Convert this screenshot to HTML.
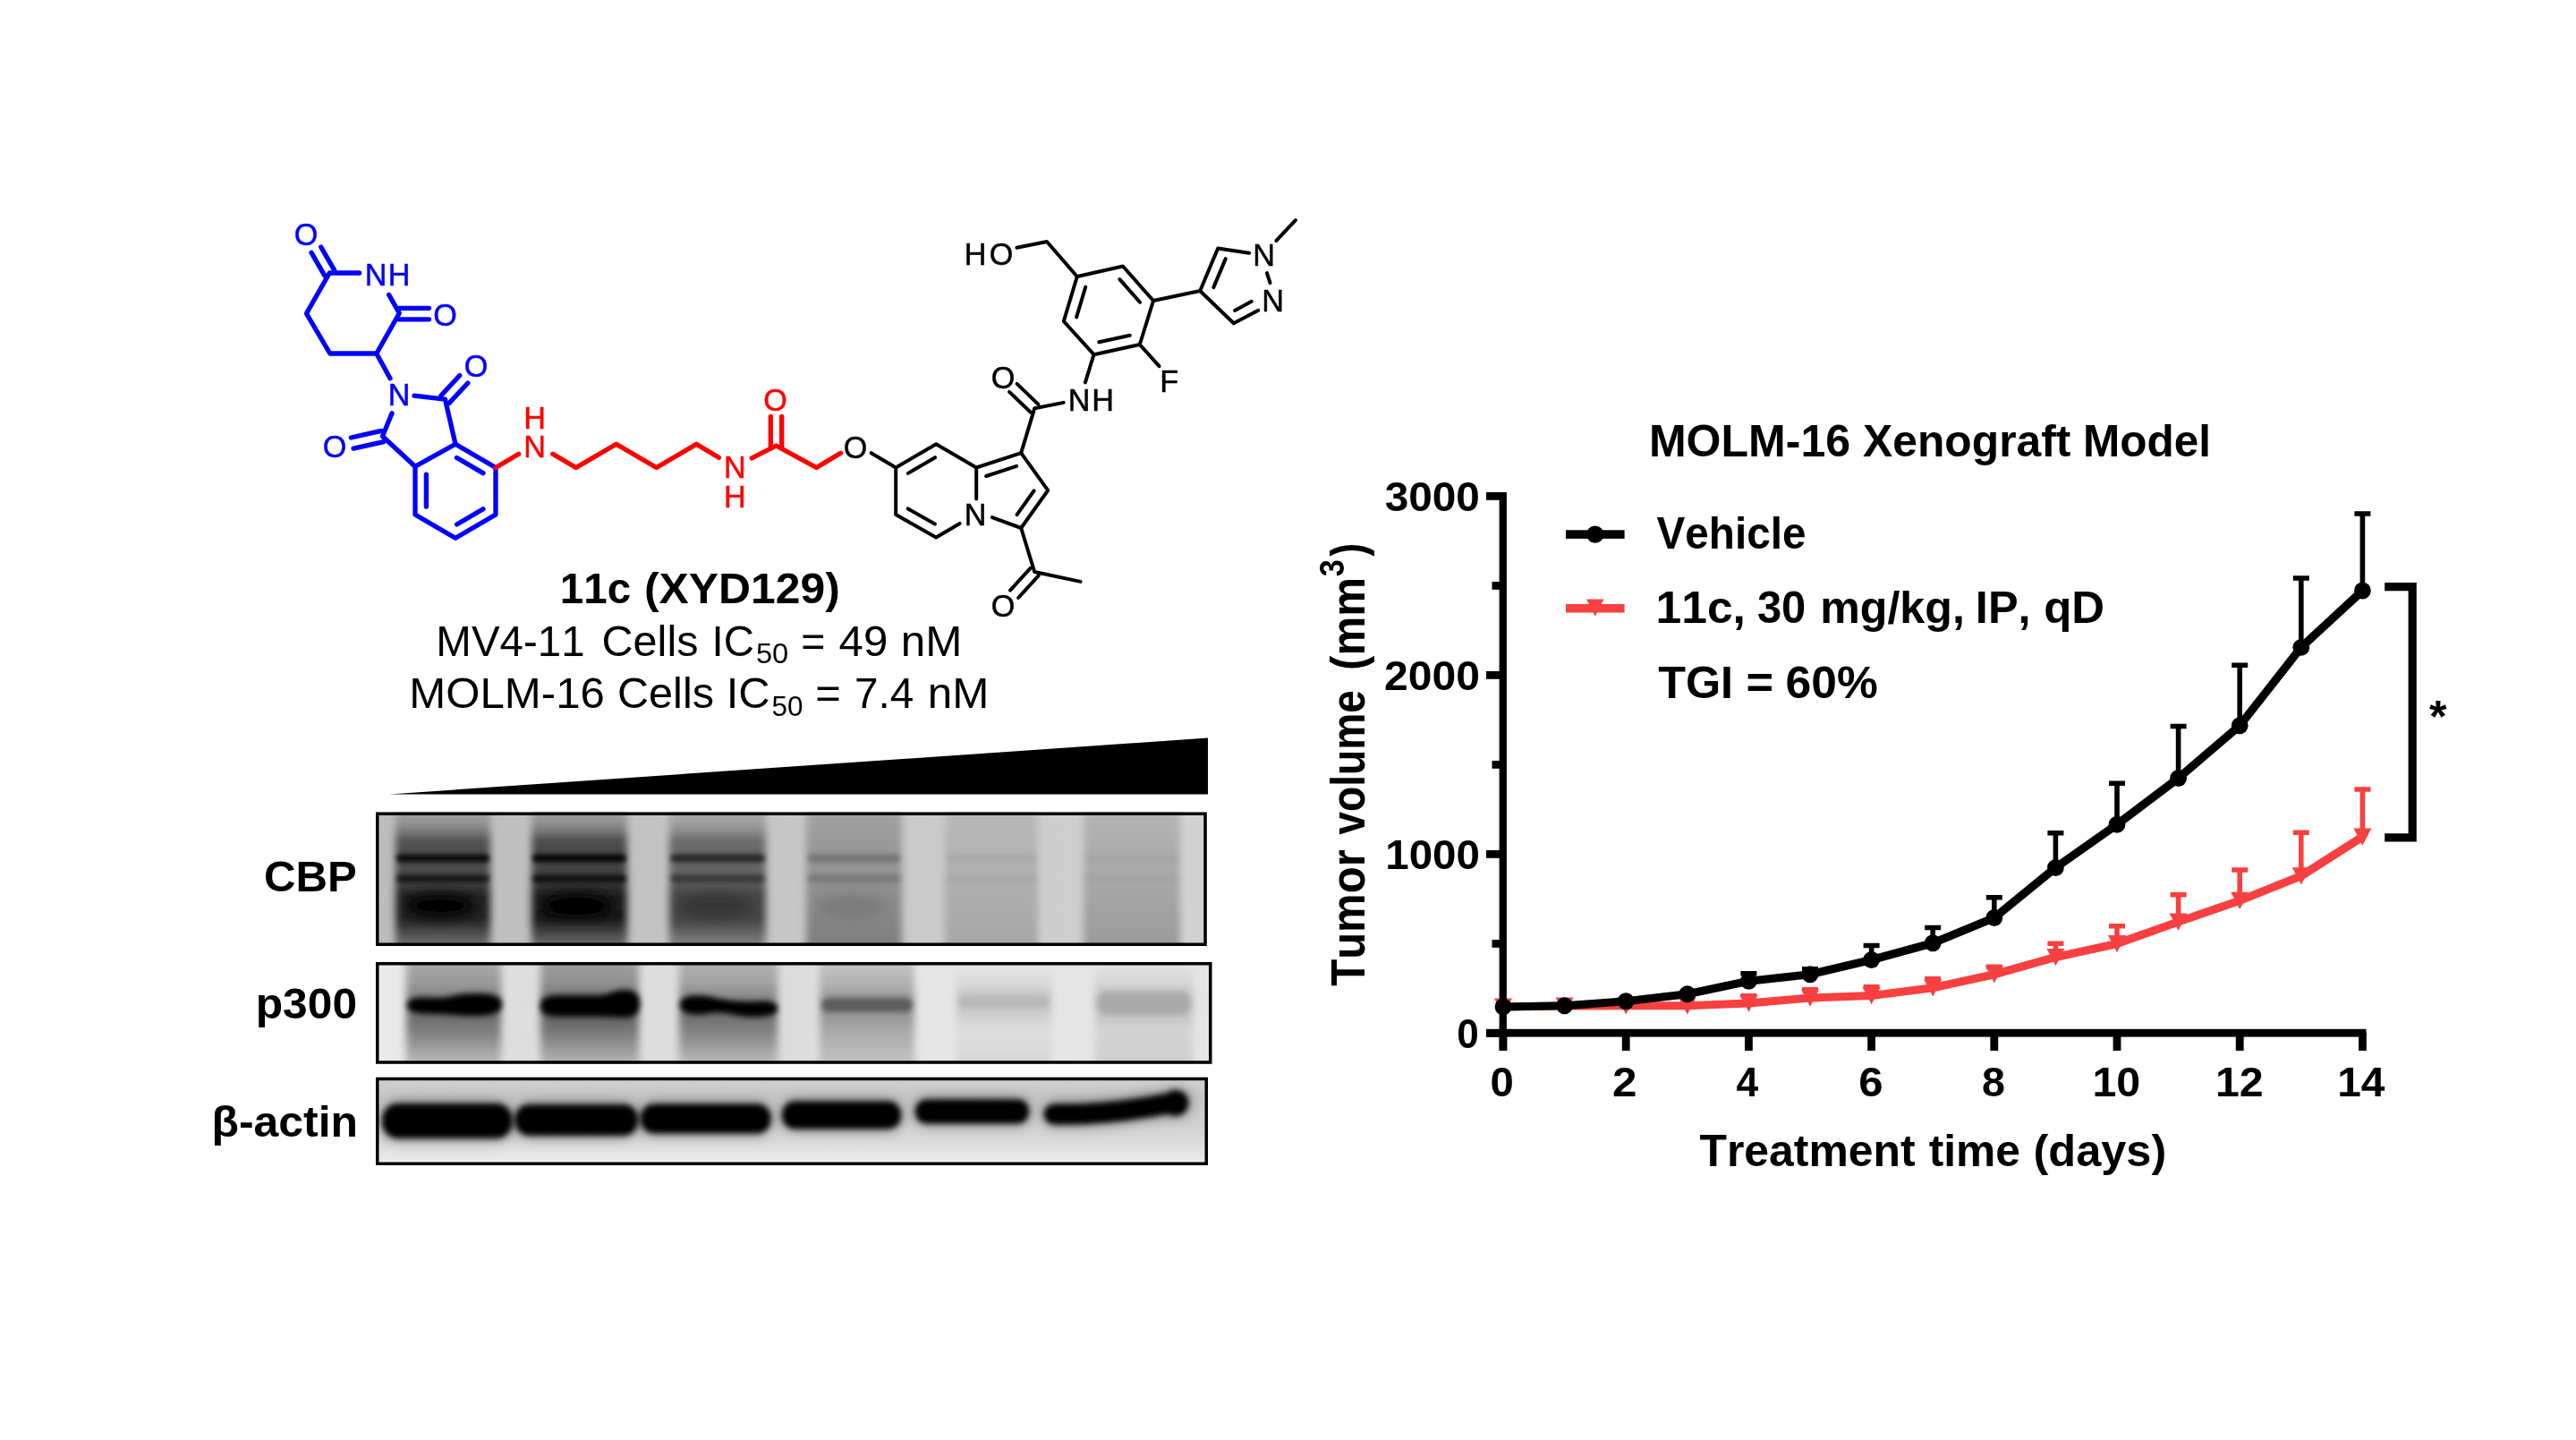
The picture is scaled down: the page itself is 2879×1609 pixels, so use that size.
<!DOCTYPE html>
<html><head><meta charset="utf-8"><title>figure</title>
<style>
html,body{margin:0;padding:0;background:#fff;}
svg{display:block}
text{font-family:"Liberation Sans",sans-serif;font-kerning:none;white-space:pre}
</style></head><body>
<svg width="2879" height="1609" viewBox="0 0 2879 1609">
<defs><filter id="soft" filterUnits="userSpaceOnUse" x="0" y="0" width="2879" height="1609"><feGaussianBlur stdDeviation="0.65"/></filter></defs>
<rect width="2879" height="1609" fill="#fff"/>
<g filter="url(#soft)">
<g id="structure">
<path d="M401.64,305.00 L368.30,305.00 L342.50,350.30 L368.80,395.00 L420.80,395.00 L446.30,350.00 L434.66,329.41" fill="none" stroke="#0000ff" stroke-width="5.3" stroke-linejoin="round" stroke-linecap="round"/>
<line x1="362.93" y1="308.10" x2="348.05" y2="282.35" stroke="#0000ff" stroke-width="5.3" stroke-linecap="round"/>
<line x1="373.67" y1="301.90" x2="358.79" y2="276.14" stroke="#0000ff" stroke-width="5.3" stroke-linecap="round"/>
<line x1="445.50" y1="344.30" x2="479.44" y2="344.30" stroke="#0000ff" stroke-width="5.3" stroke-linecap="round"/>
<line x1="445.50" y1="356.80" x2="479.44" y2="356.80" stroke="#0000ff" stroke-width="5.3" stroke-linecap="round"/>
<line x1="420.80" y1="395.00" x2="436.00" y2="422.75" stroke="#0000ff" stroke-width="5.3" stroke-linecap="round"/>
<path d="M463.04,442.21 L497.50,446.20 L509.00,496.20" fill="none" stroke="#0000ff" stroke-width="5.3" stroke-linejoin="round" stroke-linecap="round"/>
<path d="M438.05,461.72 L427.50,487.50 L464.00,521.20" fill="none" stroke="#0000ff" stroke-width="5.3" stroke-linejoin="round" stroke-linecap="round"/>
<line x1="492.95" y1="441.98" x2="513.79" y2="419.51" stroke="#0000ff" stroke-width="5.3" stroke-linecap="round"/>
<line x1="502.05" y1="450.42" x2="522.88" y2="427.95" stroke="#0000ff" stroke-width="5.3" stroke-linecap="round"/>
<line x1="428.86" y1="493.55" x2="395.05" y2="501.13" stroke="#0000ff" stroke-width="5.3" stroke-linecap="round"/>
<line x1="426.14" y1="481.45" x2="392.34" y2="489.03" stroke="#0000ff" stroke-width="5.3" stroke-linecap="round"/>
<path d="M509.00,496.20 L554.00,522.50 L554.00,575.00 L509.00,601.20 L464.00,575.00 L464.00,521.20 Z" fill="none" stroke="#0000ff" stroke-width="5.3" stroke-linejoin="round" stroke-linecap="round"/>
<line x1="510.52" y1="511.45" x2="539.96" y2="528.66" stroke="#0000ff" stroke-width="5.3" stroke-linecap="round"/>
<line x1="539.97" y1="568.82" x2="510.55" y2="585.95" stroke="#0000ff" stroke-width="5.3" stroke-linecap="round"/>
<line x1="476.40" y1="565.99" x2="476.40" y2="530.21" stroke="#0000ff" stroke-width="5.3" stroke-linecap="round"/>
<line x1="554.00" y1="522.50" x2="579.65" y2="507.34" stroke="#ff0000" stroke-width="5.3" stroke-linecap="round"/>
<path d="M617.80,507.24 L643.75,522.50 L688.75,496.25 L733.75,522.50 L778.40,496.25 L803.41,511.34" fill="none" stroke="#ff0000" stroke-width="5.3" stroke-linejoin="round" stroke-linecap="round"/>
<path d="M840.26,511.76 L867.50,498.00 L912.50,522.50 L939.61,506.16" fill="none" stroke="#ff0000" stroke-width="5.3" stroke-linejoin="round" stroke-linecap="round"/>
<line x1="861.30" y1="501.00" x2="861.30" y2="465.36" stroke="#ff0000" stroke-width="5.3" stroke-linecap="round"/>
<line x1="873.70" y1="501.00" x2="873.70" y2="465.36" stroke="#ff0000" stroke-width="5.3" stroke-linecap="round"/>
<line x1="973.70" y1="506.21" x2="1001.20" y2="522.50" stroke="#000" stroke-width="4.0" stroke-linecap="round"/>
<path d="M1072.59,584.91 L1046.20,600.50 L1001.20,575.00 L1001.20,522.50 L1046.20,496.20 L1091.20,522.50 L1091.20,557.40" fill="none" stroke="#000" stroke-width="4.0" stroke-linejoin="round" stroke-linecap="round"/>
<line x1="1014.84" y1="528.89" x2="1045.07" y2="511.22" stroke="#000" stroke-width="4.0" stroke-linecap="round"/>
<line x1="1044.87" y1="585.49" x2="1014.76" y2="568.43" stroke="#000" stroke-width="4.0" stroke-linecap="round"/>
<path d="M1091.20,522.50 L1141.20,506.20 L1171.20,547.80 L1141.20,590.00 L1108.81,578.08" fill="none" stroke="#000" stroke-width="4.0" stroke-linejoin="round" stroke-linecap="round"/>
<line x1="1102.08" y1="532.00" x2="1136.11" y2="520.90" stroke="#000" stroke-width="4.0" stroke-linecap="round"/>
<line x1="1155.65" y1="548.28" x2="1136.54" y2="575.15" stroke="#000" stroke-width="4.0" stroke-linecap="round"/>
<path d="M1141.20,506.20 L1156.20,456.30 L1188.63,449.87" fill="none" stroke="#000" stroke-width="4.0" stroke-linejoin="round" stroke-linecap="round"/>
<line x1="1151.91" y1="460.77" x2="1128.03" y2="437.85" stroke="#000" stroke-width="4.0" stroke-linecap="round"/>
<line x1="1160.49" y1="451.83" x2="1136.62" y2="428.90" stroke="#000" stroke-width="4.0" stroke-linecap="round"/>
<line x1="1212.91" y1="427.46" x2="1222.50" y2="396.20" stroke="#000" stroke-width="4.0" stroke-linecap="round"/>
<path d="M1222.50,396.20 L1273.80,385.00 L1289.00,336.00 L1255.00,297.50 L1203.80,309.00 L1188.80,359.00 Z" fill="none" stroke="#000" stroke-width="4.0" stroke-linejoin="round" stroke-linecap="round"/>
<line x1="1228.21" y1="382.26" x2="1262.80" y2="374.71" stroke="#000" stroke-width="4.0" stroke-linecap="round"/>
<line x1="1274.04" y1="337.80" x2="1251.37" y2="312.12" stroke="#000" stroke-width="4.0" stroke-linecap="round"/>
<line x1="1213.22" y1="320.76" x2="1203.14" y2="354.37" stroke="#000" stroke-width="4.0" stroke-linecap="round"/>
<line x1="1273.80" y1="385.00" x2="1295.56" y2="409.16" stroke="#000" stroke-width="4.0" stroke-linecap="round"/>
<path d="M1203.80,309.00 L1170.00,270.00 L1136.37,276.73" fill="none" stroke="#000" stroke-width="4.0" stroke-linejoin="round" stroke-linecap="round"/>
<path d="M1289.00,336.00 L1341.20,325.00" fill="none" stroke="#000" stroke-width="4.0" stroke-linejoin="round" stroke-linecap="round"/>
<path d="M1396.12,282.79 L1361.20,277.50 L1341.20,325.00 L1378.80,361.20 L1406.26,346.85" fill="none" stroke="#000" stroke-width="4.0" stroke-linejoin="round" stroke-linecap="round"/>
<line x1="1356.28" y1="321.15" x2="1369.76" y2="289.13" stroke="#000" stroke-width="4.0" stroke-linecap="round"/>
<line x1="1398.77" y1="336.86" x2="1380.03" y2="346.94" stroke="#000" stroke-width="4.0" stroke-linecap="round"/>
<line x1="1415.94" y1="305.13" x2="1419.56" y2="316.17" stroke="#000" stroke-width="4.0" stroke-linecap="round"/>
<line x1="1426.45" y1="268.98" x2="1447.85" y2="246.02" stroke="#000" stroke-width="4.0" stroke-linecap="round"/>
<path d="M1141.20,590.00 L1156.20,639.00 L1207.63,649.91" fill="none" stroke="#000" stroke-width="4.0" stroke-linejoin="round" stroke-linecap="round"/>
<line x1="1160.78" y1="643.18" x2="1138.10" y2="667.98" stroke="#000" stroke-width="4.0" stroke-linecap="round"/>
<line x1="1151.62" y1="634.82" x2="1128.95" y2="659.61" stroke="#000" stroke-width="4.0" stroke-linecap="round"/>
<text x="328.71" y="274.26" font-size="34.2" font-weight="normal" fill="#0000ff" stroke="#0000ff" stroke-width="0.5">O</text>
<text x="407.64" y="318.76" font-size="34.2" font-weight="normal" fill="#0000ff" stroke="#0000ff" stroke-width="0.5">N</text>
<text x="433.64" y="318.76" font-size="34.2" font-weight="normal" fill="#0000ff" stroke="#0000ff" stroke-width="0.5">H</text>
<text x="484.21" y="364.26" font-size="34.2" font-weight="normal" fill="#0000ff" stroke="#0000ff" stroke-width="0.5">O</text>
<text x="433.64" y="453.26" font-size="34.2" font-weight="normal" fill="#0000ff" stroke="#0000ff" stroke-width="0.5">N</text>
<text x="518.71" y="421.26" font-size="34.2" font-weight="normal" fill="#0000ff" stroke="#0000ff" stroke-width="0.5">O</text>
<text x="360.71" y="511.26" font-size="34.2" font-weight="normal" fill="#0000ff" stroke="#0000ff" stroke-width="0.5">O</text>
<text x="585.14" y="510.51" font-size="34.2" font-weight="normal" fill="#ff0000" stroke="#ff0000" stroke-width="0.5">N</text>
<text x="585.14" y="479.26" font-size="34.2" font-weight="normal" fill="#ff0000" stroke="#ff0000" stroke-width="0.5">H</text>
<text x="808.89" y="534.26" font-size="34.2" font-weight="normal" fill="#ff0000" stroke="#ff0000" stroke-width="0.5">N</text>
<text x="808.89" y="566.76" font-size="34.2" font-weight="normal" fill="#ff0000" stroke="#ff0000" stroke-width="0.5">H</text>
<text x="853.21" y="459.26" font-size="34.2" font-weight="normal" fill="#ff0000" stroke="#ff0000" stroke-width="0.5">O</text>
<text x="942.71" y="511.76" font-size="34.2" font-weight="normal" fill="#000" stroke="#000" stroke-width="0.5">O</text>
<text x="1077.64" y="587.26" font-size="34.2" font-weight="normal" fill="#000" stroke="#000" stroke-width="0.5">N</text>
<text x="1107.71" y="434.26" font-size="34.2" font-weight="normal" fill="#000" stroke="#000" stroke-width="0.5">O</text>
<text x="1193.64" y="459.26" font-size="34.2" font-weight="normal" fill="#000" stroke="#000" stroke-width="0.5">N</text>
<text x="1220.14" y="459.26" font-size="34.2" font-weight="normal" fill="#000" stroke="#000" stroke-width="0.5">H</text>
<text x="1296.34" y="438.06" font-size="34.2" font-weight="normal" fill="#000" stroke="#000" stroke-width="0.5">F</text>
<text x="1077.64" y="295.76" font-size="34.2" font-weight="normal" fill="#000" stroke="#000" stroke-width="0.5">H</text>
<text x="1105.71" y="295.76" font-size="34.2" font-weight="normal" fill="#000" stroke="#000" stroke-width="0.5">O</text>
<text x="1400.14" y="296.76" font-size="34.2" font-weight="normal" fill="#000" stroke="#000" stroke-width="0.5">N</text>
<text x="1410.14" y="348.26" font-size="34.2" font-weight="normal" fill="#000" stroke="#000" stroke-width="0.5">N</text>
<text x="1107.71" y="689.26" font-size="34.2" font-weight="normal" fill="#000" stroke="#000" stroke-width="0.5">O</text>
</g>
<g id="lefttext">
<text x="625.75" y="673.75" font-size="47.6" font-weight="bold" fill="#000" textLength="79.39" lengthAdjust="spacingAndGlyphs" >11c</text>
<text x="720.02" y="673.75" font-size="47.6" font-weight="bold" fill="#000" textLength="218.71" lengthAdjust="spacingAndGlyphs" >(XYD129)</text>
<text x="487.36" y="732.50" font-size="47.6" font-weight="normal" fill="#000" textLength="166.21" lengthAdjust="spacingAndGlyphs" >MV4-11</text>
<text x="672.53" y="732.50" font-size="47.6" font-weight="normal" fill="#000" textLength="107.97" lengthAdjust="spacingAndGlyphs" >Cells</text>
<text x="795.62" y="732.50" font-size="47.6" font-weight="normal" fill="#000" textLength="47.43" lengthAdjust="spacingAndGlyphs" >IC</text>
<text x="844.94" y="741.25" font-size="32" font-weight="normal" fill="#000" textLength="36.33" lengthAdjust="spacingAndGlyphs" >50</text>
<text x="895.24" y="732.50" font-size="47.6" font-weight="normal" fill="#000" textLength="27.05" lengthAdjust="spacingAndGlyphs" >=</text>
<text x="937.62" y="732.50" font-size="47.6" font-weight="normal" fill="#000" textLength="54.71" lengthAdjust="spacingAndGlyphs" >49</text>
<text x="1006.72" y="732.50" font-size="47.6" font-weight="normal" fill="#000" textLength="68.58" lengthAdjust="spacingAndGlyphs" >nM</text>
<text x="457.21" y="791.25" font-size="47.6" font-weight="normal" fill="#000" textLength="218.70" lengthAdjust="spacingAndGlyphs" >MOLM-16</text>
<text x="690.03" y="791.25" font-size="47.6" font-weight="normal" fill="#000" textLength="107.97" lengthAdjust="spacingAndGlyphs" >Cells</text>
<text x="811.74" y="791.25" font-size="47.6" font-weight="normal" fill="#000" textLength="48.87" lengthAdjust="spacingAndGlyphs" >IC</text>
<text x="862.49" y="800.00" font-size="32" font-weight="normal" fill="#000" textLength="34.99" lengthAdjust="spacingAndGlyphs" >50</text>
<text x="911.36" y="791.25" font-size="47.6" font-weight="normal" fill="#000" textLength="28.55" lengthAdjust="spacingAndGlyphs" >=</text>
<text x="955.05" y="791.25" font-size="47.6" font-weight="normal" fill="#000" textLength="66.35" lengthAdjust="spacingAndGlyphs" >7.4</text>
<text x="1036.72" y="791.25" font-size="47.6" font-weight="normal" fill="#000" textLength="68.58" lengthAdjust="spacingAndGlyphs" >nM</text>
<text x="294.99" y="996.40" font-size="47.5" font-weight="bold" fill="#000" textLength="103.69" lengthAdjust="spacingAndGlyphs" >CBP</text>
<text x="285.72" y="1138.00" font-size="47.5" font-weight="bold" fill="#000" textLength="113.32" lengthAdjust="spacingAndGlyphs" >p300</text>
<text x="236.54" y="1270.00" font-size="47.5" font-weight="bold" fill="#000" textLength="163.55" lengthAdjust="spacingAndGlyphs" >β-actin</text>
</g>
<polygon points="435,887.5 1350,887.5 1350,824.5" fill="#000"/>
<defs>
<filter id="bl1_5" x="-30%" y="-80%" width="160%" height="260%"><feGaussianBlur stdDeviation="1.5"/></filter>
<filter id="bl2" x="-30%" y="-80%" width="160%" height="260%"><feGaussianBlur stdDeviation="2"/></filter>
<filter id="bl2_5" x="-30%" y="-80%" width="160%" height="260%"><feGaussianBlur stdDeviation="2.5"/></filter>
<filter id="bl3" x="-30%" y="-80%" width="160%" height="260%"><feGaussianBlur stdDeviation="3"/></filter>
<filter id="bl4" x="-30%" y="-80%" width="160%" height="260%"><feGaussianBlur stdDeviation="4"/></filter>
<filter id="bl5" x="-30%" y="-80%" width="160%" height="260%"><feGaussianBlur stdDeviation="5"/></filter>
<filter id="bl6" x="-30%" y="-80%" width="160%" height="260%"><feGaussianBlur stdDeviation="6"/></filter>
<filter id="bl8" x="-30%" y="-80%" width="160%" height="260%"><feGaussianBlur stdDeviation="8"/></filter>
<clipPath id="cpA"><rect x="420" y="907.5" width="928.75" height="149.5"/></clipPath>
<linearGradient id="lgA0" x1="0" y1="907.5" x2="0" y2="1057" gradientUnits="userSpaceOnUse">
<stop offset="0.0033" stop-color="#a0a0a0"/>
<stop offset="0.0836" stop-color="#929292"/>
<stop offset="0.1438" stop-color="#7d7d7d"/>
<stop offset="0.1906" stop-color="#575757"/>
<stop offset="0.2977" stop-color="#4d4d4d"/>
<stop offset="0.4047" stop-color="#4d4d4d"/>
<stop offset="0.5518" stop-color="#3c3c3c"/>
<stop offset="0.6054" stop-color="#242424"/>
<stop offset="0.8060" stop-color="#222222"/>
<stop offset="0.8595" stop-color="#383838"/>
<stop offset="0.9197" stop-color="#545454"/>
<stop offset="0.9933" stop-color="#6f6f6f"/>
</linearGradient>
<linearGradient id="lgA1" x1="0" y1="907.5" x2="0" y2="1057" gradientUnits="userSpaceOnUse">
<stop offset="0.0033" stop-color="#9e9e9e"/>
<stop offset="0.0836" stop-color="#8f8f8f"/>
<stop offset="0.1438" stop-color="#797979"/>
<stop offset="0.1906" stop-color="#515151"/>
<stop offset="0.2977" stop-color="#464646"/>
<stop offset="0.4047" stop-color="#464646"/>
<stop offset="0.5518" stop-color="#343434"/>
<stop offset="0.6054" stop-color="#1b1b1b"/>
<stop offset="0.8060" stop-color="#191919"/>
<stop offset="0.8595" stop-color="#303030"/>
<stop offset="0.9197" stop-color="#4e4e4e"/>
<stop offset="0.9933" stop-color="#6b6b6b"/>
</linearGradient>
<linearGradient id="lgA2" x1="0" y1="907.5" x2="0" y2="1057" gradientUnits="userSpaceOnUse">
<stop offset="0.0033" stop-color="#a9a9a9"/>
<stop offset="0.0836" stop-color="#9e9e9e"/>
<stop offset="0.1438" stop-color="#8d8d8d"/>
<stop offset="0.1906" stop-color="#6f6f6f"/>
<stop offset="0.2977" stop-color="#666666"/>
<stop offset="0.4047" stop-color="#666666"/>
<stop offset="0.5518" stop-color="#595959"/>
<stop offset="0.6054" stop-color="#454545"/>
<stop offset="0.8060" stop-color="#444444"/>
<stop offset="0.8595" stop-color="#565656"/>
<stop offset="0.9197" stop-color="#6c6c6c"/>
<stop offset="0.9933" stop-color="#828282"/>
</linearGradient>
<linearGradient id="lgA3" x1="0" y1="907.5" x2="0" y2="1057" gradientUnits="userSpaceOnUse">
<stop offset="0.0033" stop-color="#a1a1a1"/>
<stop offset="0.0836" stop-color="#9f9f9f"/>
<stop offset="0.1438" stop-color="#9d9d9d"/>
<stop offset="0.1906" stop-color="#9b9b9b"/>
<stop offset="0.2977" stop-color="#979797"/>
<stop offset="0.4047" stop-color="#949494"/>
<stop offset="0.5518" stop-color="#8f8f8f"/>
<stop offset="0.6054" stop-color="#8d8d8d"/>
<stop offset="0.8060" stop-color="#868686"/>
<stop offset="0.8595" stop-color="#848484"/>
<stop offset="0.9197" stop-color="#828282"/>
<stop offset="0.9933" stop-color="#808080"/>
</linearGradient>
<linearGradient id="lgA4" x1="0" y1="907.5" x2="0" y2="1057" gradientUnits="userSpaceOnUse">
<stop offset="0.0033" stop-color="#b9b9b9"/>
<stop offset="0.0836" stop-color="#b7b7b7"/>
<stop offset="0.1438" stop-color="#b6b6b6"/>
<stop offset="0.1906" stop-color="#b5b5b5"/>
<stop offset="0.2977" stop-color="#b3b3b3"/>
<stop offset="0.4047" stop-color="#b1b1b1"/>
<stop offset="0.5518" stop-color="#aeaeae"/>
<stop offset="0.6054" stop-color="#adadad"/>
<stop offset="0.8060" stop-color="#aaaaaa"/>
<stop offset="0.8595" stop-color="#a9a9a9"/>
<stop offset="0.9197" stop-color="#a7a7a7"/>
<stop offset="0.9933" stop-color="#a6a6a6"/>
</linearGradient>
<linearGradient id="lgA5" x1="0" y1="907.5" x2="0" y2="1057" gradientUnits="userSpaceOnUse">
<stop offset="0.0033" stop-color="#b3b3b3"/>
<stop offset="0.0836" stop-color="#b2b2b2"/>
<stop offset="0.1438" stop-color="#b0b0b0"/>
<stop offset="0.1906" stop-color="#afafaf"/>
<stop offset="0.2977" stop-color="#acacac"/>
<stop offset="0.4047" stop-color="#aaaaaa"/>
<stop offset="0.5518" stop-color="#a6a6a6"/>
<stop offset="0.6054" stop-color="#a5a5a5"/>
<stop offset="0.8060" stop-color="#a0a0a0"/>
<stop offset="0.8595" stop-color="#9f9f9f"/>
<stop offset="0.9197" stop-color="#9e9e9e"/>
<stop offset="0.9933" stop-color="#9c9c9c"/>
</linearGradient>
<linearGradient id="bgA" x1="420" y1="0" x2="1349" y2="0" gradientUnits="userSpaceOnUse"><stop offset="0" stop-color="#bcbcbc"/><stop offset="0.5" stop-color="#c6c6c6"/><stop offset="1" stop-color="#d2d2d2"/></linearGradient>
<clipPath id="cpB"><rect x="420" y="1075" width="934.5" height="113.75"/></clipPath>
<linearGradient id="lgB0" x1="0" y1="1075" x2="0" y2="1188.75" gradientUnits="userSpaceOnUse">
<stop offset="0.0264" stop-color="#a7a7a7"/>
<stop offset="0.2198" stop-color="#989898"/>
<stop offset="0.3253" stop-color="#848484"/>
<stop offset="0.5275" stop-color="#6c6c6c"/>
<stop offset="0.6593" stop-color="#7b7b7b"/>
<stop offset="0.8352" stop-color="#9c9c9c"/>
<stop offset="0.9846" stop-color="#b9b9b9"/>
</linearGradient>
<linearGradient id="lgB1" x1="0" y1="1075" x2="0" y2="1188.75" gradientUnits="userSpaceOnUse">
<stop offset="0.0264" stop-color="#9d9d9d"/>
<stop offset="0.2198" stop-color="#8e8e8e"/>
<stop offset="0.3253" stop-color="#7a7a7a"/>
<stop offset="0.5275" stop-color="#646464"/>
<stop offset="0.6593" stop-color="#737373"/>
<stop offset="0.8352" stop-color="#969696"/>
<stop offset="0.9846" stop-color="#b4b4b4"/>
</linearGradient>
<linearGradient id="lgB2" x1="0" y1="1075" x2="0" y2="1188.75" gradientUnits="userSpaceOnUse">
<stop offset="0.0264" stop-color="#afafaf"/>
<stop offset="0.2198" stop-color="#a0a0a0"/>
<stop offset="0.3253" stop-color="#8c8c8c"/>
<stop offset="0.5275" stop-color="#707070"/>
<stop offset="0.6593" stop-color="#7f7f7f"/>
<stop offset="0.8352" stop-color="#9e9e9e"/>
<stop offset="0.9846" stop-color="#b9b9b9"/>
</linearGradient>
<linearGradient id="lgB3" x1="0" y1="1075" x2="0" y2="1188.75" gradientUnits="userSpaceOnUse">
<stop offset="0.0264" stop-color="#c1c1c1"/>
<stop offset="0.2198" stop-color="#b2b2b2"/>
<stop offset="0.3253" stop-color="#9e9e9e"/>
<stop offset="0.5275" stop-color="#989898"/>
<stop offset="0.6593" stop-color="#a7a7a7"/>
<stop offset="0.8352" stop-color="#b6b6b6"/>
<stop offset="0.9846" stop-color="#c0c0c0"/>
</linearGradient>
<linearGradient id="lgB4" x1="0" y1="1075" x2="0" y2="1188.75" gradientUnits="userSpaceOnUse">
<stop offset="0.0264" stop-color="#e7e7e7"/>
<stop offset="0.2198" stop-color="#d8d8d8"/>
<stop offset="0.3253" stop-color="#c4c4c4"/>
<stop offset="0.5275" stop-color="#cecece"/>
<stop offset="0.6593" stop-color="#dddddd"/>
<stop offset="0.8352" stop-color="#dbdbdb"/>
<stop offset="0.9846" stop-color="#d4d4d4"/>
</linearGradient>
<linearGradient id="lgB5" x1="0" y1="1075" x2="0" y2="1188.75" gradientUnits="userSpaceOnUse">
<stop offset="0.0264" stop-color="#e3e3e3"/>
<stop offset="0.2198" stop-color="#d4d4d4"/>
<stop offset="0.3253" stop-color="#c0c0c0"/>
<stop offset="0.5275" stop-color="#c4c4c4"/>
<stop offset="0.6593" stop-color="#d3d3d3"/>
<stop offset="0.8352" stop-color="#d2d2d2"/>
<stop offset="0.9846" stop-color="#cdcdcd"/>
</linearGradient>
<linearGradient id="bgB" x1="420" y1="0" x2="1354" y2="0" gradientUnits="userSpaceOnUse"><stop offset="0" stop-color="#ececec"/><stop offset="0.08" stop-color="#dedede"/><stop offset="0.5" stop-color="#dcdcdc"/><stop offset="0.62" stop-color="#e6e6e6"/><stop offset="1" stop-color="#e4e4e4"/></linearGradient>
<clipPath id="cpC"><rect x="420" y="1203.75" width="930" height="98.25"/></clipPath>
<linearGradient id="bgC" x1="0" y1="1203.75" x2="0" y2="1302" gradientUnits="userSpaceOnUse"><stop offset="0" stop-color="#d2d2d2"/><stop offset="0.22" stop-color="#c6c6c6"/><stop offset="0.7" stop-color="#d8d8d8"/><stop offset="1" stop-color="#eeeeee"/></linearGradient>
</defs>
<g clip-path="url(#cpA)">
<rect x="420" y="907.5" width="929" height="150" fill="url(#bgA)"/>
<g filter="url(#bl4)">
<rect x="442" y="895" width="106" height="175" fill="url(#lgA0)"/>
<rect x="594" y="895" width="107" height="175" fill="url(#lgA1)"/>
<rect x="748" y="895" width="108" height="175" fill="url(#lgA2)"/>
<rect x="901" y="895" width="107" height="175" fill="url(#lgA3)"/>
<rect x="1056" y="895" width="104" height="175" fill="url(#lgA4)"/>
<rect x="1211" y="895" width="108" height="175" fill="url(#lgA5)"/>
</g>
<g filter="url(#bl2_5)">
<rect x="443" y="954.5" width="104" height="9" rx="4.5" fill="#000" opacity="0.85"/>
<rect x="443" y="977.5" width="104" height="8.5" rx="4" fill="#000" opacity="0.62"/>
<rect x="595" y="954.5" width="105" height="9" rx="4.5" fill="#000" opacity="0.88"/>
<rect x="595" y="977.5" width="105" height="8.5" rx="4" fill="#000" opacity="0.7"/>
<rect x="749" y="954.5" width="106" height="9" rx="4.5" fill="#000" opacity="0.6"/>
<rect x="749" y="977.5" width="106" height="8.5" rx="4" fill="#000" opacity="0.4"/>
<rect x="902" y="954.5" width="105" height="9" rx="4.5" fill="#000" opacity="0.22"/>
<rect x="902" y="977.5" width="105" height="8.5" rx="4" fill="#000" opacity="0.16"/>
<rect x="1057" y="954.5" width="102" height="9" rx="4.5" fill="#000" opacity="0.05"/>
<rect x="1057" y="977.5" width="102" height="8.5" rx="4" fill="#000" opacity="0.04"/>
<rect x="1212" y="954.5" width="106" height="9" rx="4.5" fill="#000" opacity="0.04"/>
<rect x="1212" y="977.5" width="106" height="8.5" rx="4" fill="#000" opacity="0.03"/>
</g>
<g filter="url(#bl6)">
<ellipse cx="492.0" cy="1012" rx="39.0" ry="14" fill="#000" opacity="0.9"/>
<ellipse cx="644.5" cy="1012" rx="39.5" ry="14" fill="#000" opacity="0.95"/>
<ellipse cx="799.0" cy="1012" rx="40.0" ry="14" fill="#000" opacity="0.22"/>
<ellipse cx="951.5" cy="1012" rx="39.5" ry="14" fill="#000" opacity="0.1"/>
</g>
</g>
<rect x="421.75" y="909.25" width="925.25" height="146" fill="none" stroke="#000" stroke-width="3.5"/>
<g clip-path="url(#cpB)">
<rect x="420" y="1075" width="935" height="114" fill="url(#bgB)"/>
<g filter="url(#bl4)">
<rect x="454" y="1062" width="106" height="140" fill="url(#lgB0)"/>
<rect x="604" y="1062" width="110" height="140" fill="url(#lgB1)"/>
<rect x="759" y="1062" width="110" height="140" fill="url(#lgB2)"/>
<rect x="916" y="1062" width="106" height="140" fill="url(#lgB3)"/>
<rect x="1069" y="1062" width="106" height="140" fill="url(#lgB4)"/>
<rect x="1224" y="1062" width="109" height="140" fill="url(#lgB5)"/>
</g>
<g filter="url(#bl3)">
<path d="M455,1123 C455,1114 470,1114 485,1115 C500,1116 510,1110 530,1110 C545,1110 561,1111 561,1122 C561,1134 545,1135 530,1135 C510,1135 500,1133 485,1133 C470,1133 455,1132 455,1123 Z" fill="#000"/>
<path d="M604,1124 C604,1113 615,1112 630,1112 L670,1112 C680,1112 685,1106 698,1106 C710,1106 715,1112 715,1121 C715,1131 710,1137 698,1137 C688,1137 680,1136 670,1136 L630,1136 C615,1136 604,1135 604,1124 Z" fill="#000"/>
<path d="M760,1123 C760,1112 775,1111 790,1113 C805,1116 815,1119 840,1119 C855,1118 869,1118 869,1127 C869,1136 850,1137 835,1136 C815,1134 810,1130 795,1132 C780,1135 760,1135 760,1123 Z" fill="#000"/>
<rect x="918" y="1115" width="102" height="16" rx="8" fill="#4a4a4a" opacity="0.8"/>
<rect x="1071" y="1113" width="102" height="14" rx="7" fill="#aaa" opacity="0.55"/>
<rect x="1226" y="1108" width="105" height="26" rx="11" fill="#969696" opacity="0.55"/>
</g></g>
<rect x="421.75" y="1076.75" width="931" height="110.25" fill="none" stroke="#000" stroke-width="3.5"/>
<g clip-path="url(#cpC)">
<rect x="420" y="1203" width="931" height="100" fill="url(#bgC)"/>
<g filter="url(#bl8)" opacity="0.6">
<rect x="427.5" y="1233.5" width="144.5" height="38" rx="17.1" fill="#000"/>
<rect x="576.0" y="1234.5" width="136.5" height="34" rx="15.3" fill="#000"/>
<rect x="716.5" y="1234.0" width="144.5" height="32" rx="14.4" fill="#000"/>
<rect x="874.5" y="1231.0" width="132" height="30" rx="13.5" fill="#000"/>
<rect x="1023.5" y="1229.0" width="126" height="26" rx="11.700000000000001" fill="#000"/>
<path d="M1178,1245 C1220,1246 1270,1240 1312,1232" fill="none" stroke="#000" stroke-width="22" stroke-linecap="round"/>
<circle cx="1314" cy="1232.5" r="14" fill="#000"/>
</g>
<g filter="url(#bl3)">
<rect x="427.5" y="1233.5" width="144.5" height="38" rx="17.1" fill="#000"/>
<rect x="576.0" y="1234.5" width="136.5" height="34" rx="15.3" fill="#000"/>
<rect x="716.5" y="1234.0" width="144.5" height="32" rx="14.4" fill="#000"/>
<rect x="874.5" y="1231.0" width="132" height="30" rx="13.5" fill="#000"/>
<rect x="1023.5" y="1229.0" width="126" height="26" rx="11.700000000000001" fill="#000"/>
<path d="M1178,1245 C1220,1246 1270,1240 1312,1232" fill="none" stroke="#000" stroke-width="22" stroke-linecap="round"/>
<circle cx="1314" cy="1232.5" r="14" fill="#000"/>
</g>
</g>
<rect x="421.75" y="1205.5" width="926.5" height="94.75" fill="none" stroke="#000" stroke-width="3.5"/>
<g id="chart">
<line x1="1954.40" y1="1121.00" x2="1954.40" y2="1112.70" stroke="#f84041" stroke-width="5.6"/>
<line x1="1945.40" y1="1112.75" x2="1963.40" y2="1112.75" stroke="#f84041" stroke-width="5.5"/>
<line x1="2023.00" y1="1115.00" x2="2023.00" y2="1105.70" stroke="#f84041" stroke-width="5.6"/>
<line x1="2014.00" y1="1105.75" x2="2032.00" y2="1105.75" stroke="#f84041" stroke-width="5.5"/>
<line x1="2091.60" y1="1112.50" x2="2091.60" y2="1102.70" stroke="#f84041" stroke-width="5.6"/>
<line x1="2082.60" y1="1102.75" x2="2100.60" y2="1102.75" stroke="#f84041" stroke-width="5.5"/>
<line x1="2160.20" y1="1103.75" x2="2160.20" y2="1093.70" stroke="#f84041" stroke-width="5.6"/>
<line x1="2151.20" y1="1093.75" x2="2169.20" y2="1093.75" stroke="#f84041" stroke-width="5.5"/>
<line x1="2228.80" y1="1088.75" x2="2228.80" y2="1080.20" stroke="#f84041" stroke-width="5.6"/>
<line x1="2219.80" y1="1080.25" x2="2237.80" y2="1080.25" stroke="#f84041" stroke-width="5.5"/>
<line x1="2297.40" y1="1069.40" x2="2297.40" y2="1054.20" stroke="#f84041" stroke-width="5.6"/>
<line x1="2288.40" y1="1054.25" x2="2306.40" y2="1054.25" stroke="#f84041" stroke-width="5.5"/>
<line x1="2366.00" y1="1054.40" x2="2366.00" y2="1034.70" stroke="#f84041" stroke-width="5.6"/>
<line x1="2357.00" y1="1034.75" x2="2375.00" y2="1034.75" stroke="#f84041" stroke-width="5.5"/>
<line x1="2434.60" y1="1030.00" x2="2434.60" y2="999.70" stroke="#f84041" stroke-width="5.6"/>
<line x1="2425.60" y1="999.75" x2="2443.60" y2="999.75" stroke="#f84041" stroke-width="5.5"/>
<line x1="2503.20" y1="1006.25" x2="2503.20" y2="971.95" stroke="#f84041" stroke-width="5.6"/>
<line x1="2494.20" y1="972.00" x2="2512.20" y2="972.00" stroke="#f84041" stroke-width="5.5"/>
<line x1="2571.80" y1="978.75" x2="2571.80" y2="930.20" stroke="#f84041" stroke-width="5.6"/>
<line x1="2562.80" y1="930.25" x2="2580.80" y2="930.25" stroke="#f84041" stroke-width="5.5"/>
<line x1="2640.40" y1="935.00" x2="2640.40" y2="881.95" stroke="#f84041" stroke-width="5.6"/>
<line x1="2631.40" y1="882.00" x2="2649.40" y2="882.00" stroke="#f84041" stroke-width="5.5"/>
<polyline points="1680.00,1125.00 1748.60,1124.00 1817.20,1123.75 1885.80,1123.75 1954.40,1121.00 2023.00,1115.00 2091.60,1112.50 2160.20,1103.75 2228.80,1088.75 2297.40,1069.40 2366.00,1054.40 2434.60,1030.00 2503.20,1006.25 2571.80,978.75 2640.40,935.00" fill="none" stroke="#f84041" stroke-width="9.2" stroke-linejoin="round"/>
<polygon points="1670.00,1115.50 1690.00,1115.50 1680.00,1134.80" fill="#f84041"/>
<polygon points="1738.60,1114.50 1758.60,1114.50 1748.60,1133.80" fill="#f84041"/>
<polygon points="1807.20,1114.25 1827.20,1114.25 1817.20,1133.55" fill="#f84041"/>
<polygon points="1875.80,1114.25 1895.80,1114.25 1885.80,1133.55" fill="#f84041"/>
<polygon points="1944.40,1111.50 1964.40,1111.50 1954.40,1130.80" fill="#f84041"/>
<polygon points="2013.00,1105.50 2033.00,1105.50 2023.00,1124.80" fill="#f84041"/>
<polygon points="2081.60,1103.00 2101.60,1103.00 2091.60,1122.30" fill="#f84041"/>
<polygon points="2150.20,1094.25 2170.20,1094.25 2160.20,1113.55" fill="#f84041"/>
<polygon points="2218.80,1079.25 2238.80,1079.25 2228.80,1098.55" fill="#f84041"/>
<polygon points="2287.40,1059.90 2307.40,1059.90 2297.40,1079.20" fill="#f84041"/>
<polygon points="2356.00,1044.90 2376.00,1044.90 2366.00,1064.20" fill="#f84041"/>
<polygon points="2424.60,1020.50 2444.60,1020.50 2434.60,1039.80" fill="#f84041"/>
<polygon points="2493.20,996.75 2513.20,996.75 2503.20,1016.05" fill="#f84041"/>
<polygon points="2561.80,969.25 2581.80,969.25 2571.80,988.55" fill="#f84041"/>
<polygon points="2630.40,925.50 2650.40,925.50 2640.40,944.80" fill="#f84041"/>
<line x1="1954.40" y1="1096.25" x2="1954.40" y2="1087.70" stroke="#000" stroke-width="5.6"/>
<line x1="1945.40" y1="1087.75" x2="1963.40" y2="1087.75" stroke="#000" stroke-width="5.5"/>
<line x1="2023.00" y1="1088.75" x2="2023.00" y2="1082.70" stroke="#000" stroke-width="5.6"/>
<line x1="2014.00" y1="1082.75" x2="2032.00" y2="1082.75" stroke="#000" stroke-width="5.5"/>
<line x1="2091.60" y1="1072.50" x2="2091.60" y2="1056.45" stroke="#000" stroke-width="5.6"/>
<line x1="2082.60" y1="1056.50" x2="2100.60" y2="1056.50" stroke="#000" stroke-width="5.5"/>
<line x1="2160.20" y1="1053.75" x2="2160.20" y2="1036.45" stroke="#000" stroke-width="5.6"/>
<line x1="2151.20" y1="1036.50" x2="2169.20" y2="1036.50" stroke="#000" stroke-width="5.5"/>
<line x1="2228.80" y1="1025.50" x2="2228.80" y2="1002.70" stroke="#000" stroke-width="5.6"/>
<line x1="2219.80" y1="1002.75" x2="2237.80" y2="1002.75" stroke="#000" stroke-width="5.5"/>
<line x1="2297.40" y1="969.50" x2="2297.40" y2="930.70" stroke="#000" stroke-width="5.6"/>
<line x1="2288.40" y1="930.75" x2="2306.40" y2="930.75" stroke="#000" stroke-width="5.5"/>
<line x1="2366.00" y1="921.25" x2="2366.00" y2="875.20" stroke="#000" stroke-width="5.6"/>
<line x1="2357.00" y1="875.25" x2="2375.00" y2="875.25" stroke="#000" stroke-width="5.5"/>
<line x1="2434.60" y1="869.50" x2="2434.60" y2="811.45" stroke="#000" stroke-width="5.6"/>
<line x1="2425.60" y1="811.50" x2="2443.60" y2="811.50" stroke="#000" stroke-width="5.5"/>
<line x1="2503.20" y1="810.75" x2="2503.20" y2="743.20" stroke="#000" stroke-width="5.6"/>
<line x1="2494.20" y1="743.25" x2="2512.20" y2="743.25" stroke="#000" stroke-width="5.5"/>
<line x1="2571.80" y1="723.40" x2="2571.80" y2="645.95" stroke="#000" stroke-width="5.6"/>
<line x1="2562.80" y1="646.00" x2="2580.80" y2="646.00" stroke="#000" stroke-width="5.5"/>
<line x1="2640.40" y1="660.00" x2="2640.40" y2="573.95" stroke="#000" stroke-width="5.6"/>
<line x1="2631.40" y1="574.00" x2="2649.40" y2="574.00" stroke="#000" stroke-width="5.5"/>
<polyline points="1680.00,1125.00 1748.60,1123.75 1817.20,1118.75 1885.80,1110.75 1954.40,1096.25 2023.00,1088.75 2091.60,1072.50 2160.20,1053.75 2228.80,1025.50 2297.40,969.50 2366.00,921.25 2434.60,869.50 2503.20,810.75 2571.80,723.40 2640.40,660.00" fill="none" stroke="#000" stroke-width="9.2" stroke-linejoin="round"/>
<circle cx="1680.00" cy="1125.00" r="9.4" fill="#000"/>
<circle cx="1748.60" cy="1123.75" r="9.4" fill="#000"/>
<circle cx="1817.20" cy="1118.75" r="9.4" fill="#000"/>
<circle cx="1885.80" cy="1110.75" r="9.4" fill="#000"/>
<circle cx="1954.40" cy="1096.25" r="9.4" fill="#000"/>
<circle cx="2023.00" cy="1088.75" r="9.4" fill="#000"/>
<circle cx="2091.60" cy="1072.50" r="9.4" fill="#000"/>
<circle cx="2160.20" cy="1053.75" r="9.4" fill="#000"/>
<circle cx="2228.80" cy="1025.50" r="9.4" fill="#000"/>
<circle cx="2297.40" cy="969.50" r="9.4" fill="#000"/>
<circle cx="2366.00" cy="921.25" r="9.4" fill="#000"/>
<circle cx="2434.60" cy="869.50" r="9.4" fill="#000"/>
<circle cx="2503.20" cy="810.75" r="9.4" fill="#000"/>
<circle cx="2571.80" cy="723.40" r="9.4" fill="#000"/>
<circle cx="2640.40" cy="660.00" r="9.4" fill="#000"/>
<rect x="1675.6" y="550" width="8.3" height="624" fill="#000"/>
<rect x="1661" y="1149.8" width="983.5" height="8.8" fill="#000"/>
<rect x="1661" y="1150.00" width="19" height="8.8" fill="#000"/>
<rect x="1667.5" y="1050.00" width="12.5" height="8.8" fill="#000"/>
<rect x="1661" y="950.00" width="19" height="8.8" fill="#000"/>
<rect x="1667.5" y="850.00" width="12.5" height="8.8" fill="#000"/>
<rect x="1661" y="750.00" width="19" height="8.8" fill="#000"/>
<rect x="1667.5" y="650.00" width="12.5" height="8.8" fill="#000"/>
<rect x="1661" y="550.00" width="19" height="8.8" fill="#000"/>
<rect x="1675.60" y="1154" width="8.8" height="20" fill="#000"/>
<rect x="1812.80" y="1154" width="8.8" height="20" fill="#000"/>
<rect x="1950.00" y="1154" width="8.8" height="20" fill="#000"/>
<rect x="2087.20" y="1154" width="8.8" height="20" fill="#000"/>
<rect x="2224.40" y="1154" width="8.8" height="20" fill="#000"/>
<rect x="2361.60" y="1154" width="8.8" height="20" fill="#000"/>
<rect x="2498.80" y="1154" width="8.8" height="20" fill="#000"/>
<rect x="2636.00" y="1154" width="8.8" height="20" fill="#000"/>
<text x="1548.26" y="970.74" font-size="45.5" font-weight="bold" fill="#000" textLength="105.69" lengthAdjust="spacingAndGlyphs" >1000</text>
<text x="1547.08" y="770.74" font-size="45.5" font-weight="bold" fill="#000" textLength="106.89" lengthAdjust="spacingAndGlyphs" >2000</text>
<text x="1547.65" y="570.74" font-size="45.5" font-weight="bold" fill="#000" textLength="106.31" lengthAdjust="spacingAndGlyphs" >3000</text>
<text x="1628.25" y="1170.74" font-size="45.5" font-weight="bold" fill="#000" textLength="24.56" lengthAdjust="spacingAndGlyphs" >0</text>
<text x="1665.63" y="1224.70" font-size="45.5" font-weight="bold" fill="#000" textLength="26.31" lengthAdjust="spacingAndGlyphs" >0</text>
<text x="1802.04" y="1224.70" font-size="45.5" font-weight="bold" fill="#000" textLength="27.44" lengthAdjust="spacingAndGlyphs" >2</text>
<text x="1940.58" y="1224.70" font-size="45.5" font-weight="bold" fill="#000" textLength="24.66" lengthAdjust="spacingAndGlyphs" >4</text>
<text x="2077.20" y="1224.70" font-size="45.5" font-weight="bold" fill="#000" textLength="27.32" lengthAdjust="spacingAndGlyphs" >6</text>
<text x="2215.02" y="1224.70" font-size="45.5" font-weight="bold" fill="#000" textLength="25.91" lengthAdjust="spacingAndGlyphs" >8</text>
<text x="2338.45" y="1224.70" font-size="45.5" font-weight="bold" fill="#000" textLength="53.78" lengthAdjust="spacingAndGlyphs" >10</text>
<text x="2475.96" y="1224.70" font-size="45.5" font-weight="bold" fill="#000" textLength="53.73" lengthAdjust="spacingAndGlyphs" >12</text>
<text x="2612.23" y="1224.70" font-size="45.5" font-weight="bold" fill="#000" textLength="53.27" lengthAdjust="spacingAndGlyphs" >14</text>
<text x="1899.44" y="1302.50" font-size="49.4" font-weight="bold" fill="#000" textLength="241.17" lengthAdjust="spacingAndGlyphs" >Treatment</text>
<text x="2155.64" y="1302.50" font-size="49.4" font-weight="bold" fill="#000" textLength="102.31" lengthAdjust="spacingAndGlyphs" >time</text>
<text x="2272.48" y="1302.50" font-size="49.4" font-weight="bold" fill="#000" textLength="148.78" lengthAdjust="spacingAndGlyphs" >(days)</text>
<text x="1842.90" y="510.00" font-size="49.4" font-weight="bold" fill="#000" textLength="225.15" lengthAdjust="spacingAndGlyphs" >MOLM-16</text>
<text x="2082.06" y="510.00" font-size="49.4" font-weight="bold" fill="#000" textLength="232.30" lengthAdjust="spacingAndGlyphs" >Xenograft</text>
<text x="2327.94" y="510.00" font-size="49.4" font-weight="bold" fill="#000" textLength="143.07" lengthAdjust="spacingAndGlyphs" >Model</text>
<text x="1851.57" y="613.10" font-size="50" font-weight="bold" fill="#000" textLength="166.96" lengthAdjust="spacingAndGlyphs" >Vehicle</text>
<text x="1850.50" y="696.25" font-size="50" font-weight="bold" fill="#000" textLength="100.45" lengthAdjust="spacingAndGlyphs" >11c,</text>
<text x="1963.88" y="696.25" font-size="50" font-weight="bold" fill="#000" textLength="54.38" lengthAdjust="spacingAndGlyphs" >30</text>
<text x="2034.19" y="696.25" font-size="50" font-weight="bold" fill="#000" textLength="161.66" lengthAdjust="spacingAndGlyphs" >mg/kg,</text>
<text x="2207.87" y="696.25" font-size="50" font-weight="bold" fill="#000" textLength="61.76" lengthAdjust="spacingAndGlyphs" >IP,</text>
<text x="2284.16" y="696.25" font-size="50" font-weight="bold" fill="#000" textLength="67.98" lengthAdjust="spacingAndGlyphs" >qD</text>
<text x="1853.18" y="780.00" font-size="50" font-weight="bold" fill="#000" textLength="83.93" lengthAdjust="spacingAndGlyphs" >TGI</text>
<text x="1951.58" y="780.00" font-size="50" font-weight="bold" fill="#000" textLength="30.57" lengthAdjust="spacingAndGlyphs" >=</text>
<text x="1995.61" y="780.00" font-size="50" font-weight="bold" fill="#000" textLength="103.25" lengthAdjust="spacingAndGlyphs" >60%</text>
<rect x="1750" y="592.3" width="65.6" height="9.6" fill="#000"/><circle cx="1782.8" cy="597.1" r="9.7" fill="#000"/>
<rect x="1750" y="675" width="65.6" height="9.5" fill="#f84041"/><polygon points="1773,669.4 1792.6,669.4 1782.8,688.8" fill="#f84041"/>
<path d="M2665.2,655.6 H2696.2 V935.8 H2665.2" fill="none" stroke="#000" stroke-width="9.2" stroke-linejoin="miter"/>
<text x="2714.95" y="817.80" font-size="50" font-weight="bold" fill="#000" textLength="19.60" lengthAdjust="spacingAndGlyphs" >*</text>
<g transform="translate(1524.5,0) rotate(-90) scale(1,1.07)">
<text x="-1101.80" y="0.00" font-size="49.5" font-weight="bold" fill="#000" textLength="152.54" lengthAdjust="spacingAndGlyphs" >Tumor</text>
<text x="-932.68" y="0.00" font-size="49.5" font-weight="bold" fill="#000" textLength="161.76" lengthAdjust="spacingAndGlyphs" >volume</text>
<text x="-748.95" y="0.00" font-size="49.5" font-weight="bold" fill="#000" textLength="104.01" lengthAdjust="spacingAndGlyphs" >(mm</text>
<text x="-644.28" y="-20.60" font-size="36" font-weight="bold" fill="#000" textLength="19.02" lengthAdjust="spacingAndGlyphs" >3</text>
<text x="-621.74" y="0.00" font-size="49.5" font-weight="bold" fill="#000" textLength="14.99" lengthAdjust="spacingAndGlyphs" >)</text>
</g>
</g>
</g>
</svg>
</body></html>
